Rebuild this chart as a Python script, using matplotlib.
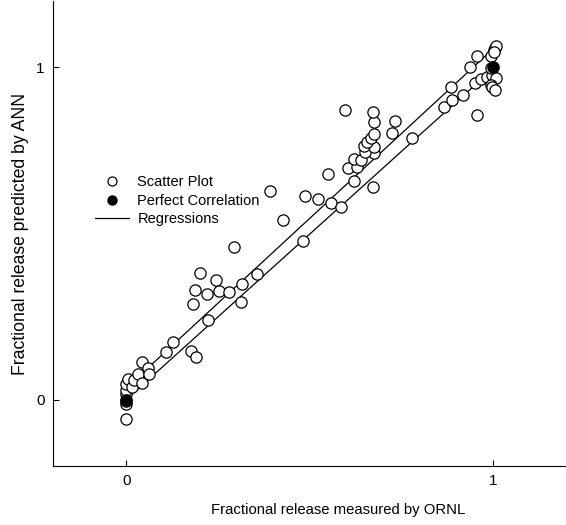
import matplotlib
matplotlib.use("Agg")
import matplotlib.pyplot as plt
from matplotlib.lines import Line2D

plt.rcParams['font.family'] = ['Liberation Sans', 'DejaVu Sans']

# measured (ORNL) vs predicted (ANN) fractional release
measured = [0.0, 0.0, 0.0, 0.0, 0.0, 0.004, 0.017, 0.022, 0.031, 0.044,
            0.043, 0.058, 0.063, 0.0, 0.108, 0.128, 0.176, 0.19, 0.181, 0.222,
            0.188, 0.219, 0.253, 0.279, 0.201, 0.244, 0.315, 0.314, 0.358, 0.294,
            0.392, 0.428, 0.482, 0.488, 0.524, 0.560, 0.587, 0.551, 0.621, 0.674,
            0.606, 0.630, 0.621, 0.640, 0.676, 0.651, 0.676, 0.649, 0.658, 0.667,
            0.676, 0.724, 0.780, 0.676, 0.733, 0.673, 0.596, 0.866, 0.889, 0.885,
            0.918, 0.957, 0.951, 0.969, 0.985, 0.998, 1.009, 0.994, 0.998, 1.007,
            0.939, 0.994, 0.957, 0.994, 1.003, 1.006, 1.008, 1.004]
predicted = [-0.06, -0.012, 0.018, 0.028, 0.048, 0.063, 0.038, 0.058, 0.078, 0.050,
             0.113, 0.095, 0.078, -0.005, 0.142, 0.174, 0.146, 0.129, 0.289, 0.239,
             0.331, 0.319, 0.327, 0.324, 0.380, 0.361, 0.347, 0.294, 0.377, 0.458,
             0.627, 0.540, 0.478, 0.614, 0.605, 0.592, 0.580, 0.679, 0.658, 0.639,
             0.698, 0.701, 0.724, 0.721, 0.741, 0.746, 0.761, 0.763, 0.776, 0.788,
             0.801, 0.803, 0.789, 0.836, 0.839, 0.867, 0.871, 0.880, 0.901, 0.942,
             0.917, 0.858, 0.952, 0.964, 0.972, 0.977, 0.967, 0.947, 0.942, 0.932,
             1.0, 0.997, 1.034, 1.034, 1.052, 1.058, 1.064, 1.046]

perfect_x = [0, 1]
perfect_y = [0, 1]

# two regression lines: intercept, slope, x range
reg_intercepts = [0.035, 0.0]
reg_slopes = [1.02, 0.995]
reg_xrange = [0.0, 1.01]

fig = plt.figure(figsize=(5.66, 5.25), dpi=100)
ax = fig.add_axes([0.0936, 0.1124, 0.9064, 0.8856])

for b, m in zip(reg_intercepts, reg_slopes):
    ax.plot(reg_xrange, [b + m * x for x in reg_xrange], color='black', lw=0.9, zorder=1)

ax.plot(measured, predicted, 'o', mfc='white', mec='black', ms=8.1, mew=0.9, zorder=2)
ax.plot(perfect_x, perfect_y, 'o', mfc='black', mec='black', ms=8.1, zorder=3)

ax.set_xlim(-0.2, 1.2)
ax.set_ylim(-0.2, 1.2)
ax.set_xticks([0, 1])
ax.set_yticks([0, 1])
ax.tick_params(direction='in', length=4, width=0.8, labelsize=11, pad=6)
for s in ['top', 'right']:
    ax.spines[s].set_visible(False)
for s in ['left', 'bottom']:
    ax.spines[s].set_linewidth(0.8)

ax.set_xlabel('Fractional release measured by ORNL', fontsize=10.7)
ax.xaxis.set_label_coords(0.555, -0.08)
ax.set_ylabel('Fractional release predicted by ANN', fontsize=12.7, labelpad=5)

handles = [
    Line2D([], [], ls='none', marker='o', mfc='white', mec='black', ms=6.5, mew=0.9),
    Line2D([], [], ls='none', marker='o', mfc='black', mec='black', ms=6.5),
    Line2D([], [], color='black', lw=0.9),
]
ax.legend(handles, ['Scatter Plot', 'Perfect Correlation', 'Regressions'],
          loc='upper left', bbox_to_anchor=(0.082, 0.625), frameon=False,
          fontsize=10.5, borderpad=0, borderaxespad=0, handlelength=2.3,
          handletextpad=0.6, labelspacing=0.3)

fig.savefig('out.png', dpi=100)
